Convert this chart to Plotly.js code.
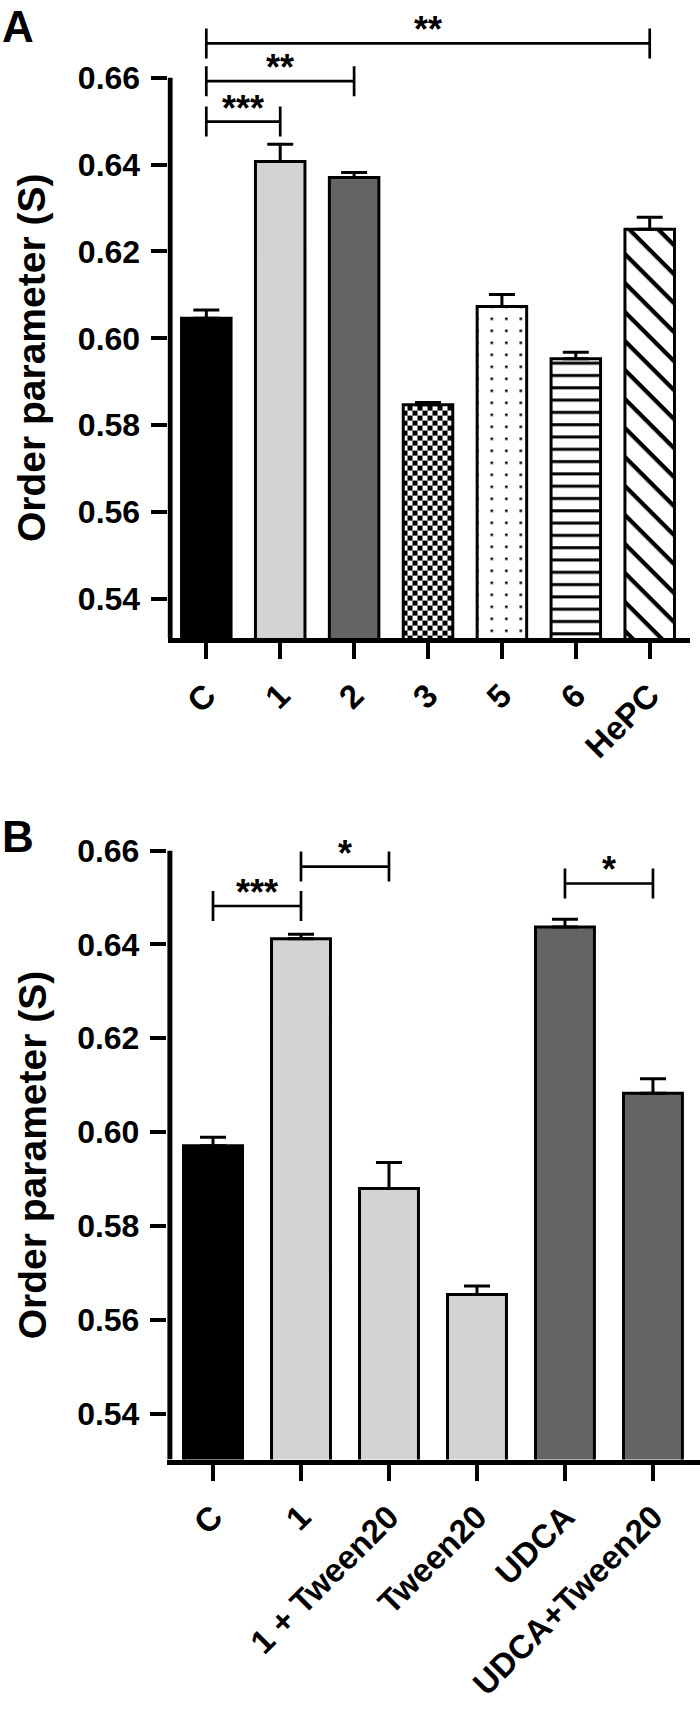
<!DOCTYPE html>
<html>
<head>
<meta charset="utf-8">
<script src="https://cdn.plot.ly/plotly-3.0.1.min.js"></script>
<style>
  body { margin: 0; padding: 0; background: #fff; }
  #chart { width: 700px; height: 1710px; }
</style>
</head>
<body>
<div id="chart"></div>
<script>
// panel A
var catsA = ['C', '1', '2', '3', '5', '6', 'HePC'];
var valsA = [0.6046, 0.6407, 0.6370, 0.5847, 0.6073, 0.5953, 0.6251];
var errA = [0.0019, 0.0040, 0.0012, 0.0005, 0.0028, 0.0015, 0.0028];
var sigFromA = [0, 0, 0];
var sigToA = [6, 2, 1];
var sigLevelA = [0.6679, 0.6592, 0.6499];
var sigTextA = ['**', '**', '***'];

// panel B
var catsB = ['C', '1', '1 + Tween20', 'Tween20', 'UDCA', 'UDCA+Tween20'];
var valsB = [0.5971, 0.6412, 0.5880, 0.5654, 0.6437, 0.6083];
var errB = [0.0018, 0.0010, 0.0055, 0.0018, 0.0017, 0.0031];
var sigFromB = [0, 1, 4];
var sigToB = [1, 2, 5];
var sigLevelB = [0.6482, 0.6566, 0.6530];
var sigTextB = ['***', '*', '*'];

var yTicks = [0.54, 0.56, 0.58, 0.60, 0.62, 0.64, 0.66];

var FONT = 'Liberation Sans, Arial, Helvetica, sans-serif';
var GRAY = '#d3d3d3', DARK = '#646464';

// hatch fill used by each bar of panel A ('' = plain colour)
var hatchA = ['', '', '', 'pat-checker', 'pat-dots', 'pat-hlines', 'pat-diag'];

var rangeA = [0.531, 0.672];
var rangeB = [0.5302, 0.664];

var traceA = {
  type: 'bar', x: catsA.map(function (c, i) { return i; }), y: valsA,
  xaxis: 'x', yaxis: 'y', width: 0.67,
  marker: {
    color: ['#000000', GRAY, DARK, '#ffffff', '#ffffff', '#ffffff', '#ffffff'],
    line: { color: '#000', width: 3 }
  },
  error_y: {
    type: 'data', symmetric: false, array: errA,
    arrayminus: errA.map(function () { return 0; }),
    color: '#000', thickness: 3, width: 13
  },
  hoverinfo: 'skip'
};

var traceB = {
  type: 'bar', x: catsB.map(function (c, i) { return i; }), y: valsB,
  xaxis: 'x2', yaxis: 'y2', width: 0.67,
  marker: {
    color: ['#000000', GRAY, GRAY, GRAY, DARK, DARK],
    line: { color: '#000', width: 3 }
  },
  error_y: {
    type: 'data', symmetric: false, array: errB,
    arrayminus: errB.map(function () { return 0; }),
    color: '#000', thickness: 3, width: 13
  },
  hoverinfo: 'skip'
};

function xAxis(cats, range, domain, anchor) {
  return {
    domain: domain, range: range, anchor: anchor,
    tickmode: 'array', tickvals: cats.map(function (c, i) { return i; }), ticktext: cats,
    tickangle: -45, ticks: 'outside', ticklen: 16, tickwidth: 4, tickcolor: '#000',
    ticklabelstandoff: 4,
    tickfont: { family: FONT, size: 33, weight: 'bold', color: '#000' },
    showline: true, linewidth: 5, linecolor: '#000',
    showgrid: false, zeroline: false, fixedrange: true
  };
}

function yAxis(range, domain, anchor) {
  return {
    domain: domain, range: range, anchor: anchor,
    tickmode: 'array', tickvals: yTicks, tickformat: '.2f',
    ticks: 'outside', ticklen: 16, tickwidth: 4, tickcolor: '#000',
    ticklabelstandoff: 4,
    tickfont: { family: FONT, size: 32, weight: 'bold', color: '#000' },
    showline: false, showgrid: false, zeroline: false, fixedrange: true
  };
}

var shapes = [];
var annotations = [];

function addPanel(xr, yr, yRange, from, to, level, text, half) {
  // vertical axis line from the bottom of the range up to 0.66 only
  shapes.push({ type: 'line', xref: xr, yref: yr, x0: -0.49, x1: -0.49,
    y0: yRange[0], y1: yTicks[yTicks.length - 1], line: { color: '#000', width: 5 } });
  for (var i = 0; i < from.length; i++) {
    var ln = { color: '#000', width: 2.7 };
    shapes.push({ type: 'line', xref: xr, yref: yr, x0: from[i], x1: to[i], y0: level[i], y1: level[i], line: ln });
    shapes.push({ type: 'line', xref: xr, yref: yr, x0: from[i], x1: from[i], y0: level[i] - half, y1: level[i] + half, line: ln });
    shapes.push({ type: 'line', xref: xr, yref: yr, x0: to[i], x1: to[i], y0: level[i] - half, y1: level[i] + half, line: ln });
    annotations.push({ xref: xr, yref: yr, x: (from[i] + to[i]) / 2, y: level[i],
      text: text[i], showarrow: false, yanchor: 'bottom', yshift: -9,
      font: { family: FONT, size: 36, weight: 'bold', color: '#000' } });
  }
  annotations.push({ xref: 'paper', yref: yr, x: 0.046, y: (yRange[0] + 0.66) / 2,
    text: 'Order parameter (S)', textangle: -90, showarrow: false,
    xanchor: 'center', yanchor: 'middle',
    font: { family: FONT, size: 39, weight: 'bold', color: '#000' } });
}

addPanel('x', 'y', rangeA, sigFromA, sigToA, sigLevelA, sigTextA, 0.00345);
addPanel('x2', 'y2', rangeB, sigFromB, sigToB, sigLevelB, sigTextB, 0.0032);

annotations.push({ xref: 'paper', yref: 'paper', x: 0, y: 1, xanchor: 'left', yanchor: 'top',
  text: 'A', showarrow: false, font: { family: FONT, size: 44, weight: 'bold', color: '#000' } });
annotations.push({ xref: 'paper', yref: 'paper', x: 0, y: 1 - 810 / 1710, xanchor: 'left', yanchor: 'top',
  text: 'B', showarrow: false, font: { family: FONT, size: 44, weight: 'bold', color: '#000' } });

var layout = {
  width: 700, height: 1710,
  margin: { l: 0, r: 0, t: 0, b: 0 },
  paper_bgcolor: '#fff', plot_bgcolor: '#fff',
  showlegend: false,
  xaxis: xAxis(catsA, [-0.525, 6.545], [0.2393, 0.9857], 'y'),
  yaxis: yAxis(rangeA, [0.6269, 0.98503], 'x'),
  xaxis2: xAxis(catsB, [-0.525, 5.53], [0.2383, 0.9994], 'y2'),
  yaxis2: yAxis(rangeB, [0.14649, 0.51351], 'x2'),
  shapes: shapes,
  annotations: annotations
};

// svg hatch fills (checkerboard, dots, stripes) for the panel A bars
function addHatches(gd) {
  var ns = 'http://www.w3.org/2000/svg';
  var svg = gd.querySelector('svg.main-svg');
  var defs = svg.querySelector('defs') || svg.insertBefore(document.createElementNS(ns, 'defs'), svg.firstChild);
  function el(tag, attrs, parent) {
    var e = document.createElementNS(ns, tag);
    for (var k in attrs) e.setAttribute(k, attrs[k]);
    parent.appendChild(e);
    return e;
  }
  function pattern(id, w, h, extra) {
    var a = { id: id, width: w, height: h, patternUnits: 'userSpaceOnUse' };
    for (var k in extra) a[k] = extra[k];
    var p = el('pattern', a, defs);
    el('rect', { x: 0, y: 0, width: w, height: h, fill: '#fff' }, p);
    return p;
  }
  var p = pattern('pat-checker', 10, 10);
  el('rect', { x: 0, y: 0, width: 5, height: 5, fill: '#000' }, p);
  el('rect', { x: 5, y: 5, width: 5, height: 5, fill: '#000' }, p);
  p = pattern('pat-dots', 14.5, 12);
  el('rect', { x: 4, y: 4, width: 2.6, height: 2.4, fill: '#000' }, p);
  p = pattern('pat-hlines', 10, 12.3);
  el('rect', { x: 0, y: 4, width: 10, height: 3, fill: '#000' }, p);
  p = pattern('pat-diag', 20.5, 20.5, { patternTransform: 'rotate(45)' });
  el('rect', { x: 0, y: 0, width: 20.5, height: 4.2, fill: '#000' }, p);

  var layer = gd.querySelector('.subplot.xy .barlayer');
  var paths = layer.querySelectorAll('.point path');
  hatchA.forEach(function (h, i) {
    if (h && paths[i]) paths[i].style.fill = 'url(#' + h + ')';
  });
}

Plotly.newPlot('chart', [traceA, traceB], layout, { displayModeBar: false, staticPlot: true })
  .then(addHatches);
</script>
</body>
</html>
